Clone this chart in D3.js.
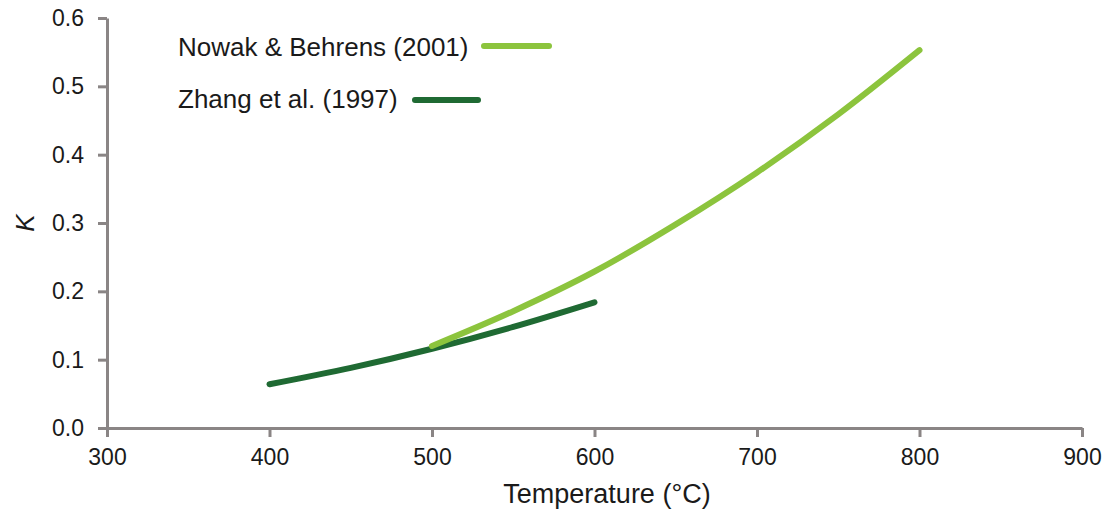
<!DOCTYPE html>
<html>
<head>
<meta charset="utf-8">
<script src="https://cdn.jsdelivr.net/npm/d3@7"></script>
<style>
  html, body { margin: 0; padding: 0; background: #ffffff; }
  text { font-family: "Liberation Sans", Arial, sans-serif; fill: #1a1a1a; }
</style>
</head>
<body>
<svg id="chart" width="1116" height="513"></svg>
<script>
// ---- data ----
const nowakT = [500, 550, 600, 650, 700, 750, 800];
const nowakK = [0.120, 0.171, 0.229, 0.298, 0.374, 0.459, 0.553];
const zhangT = [400, 450, 500, 550, 600];
const zhangK = [0.064, 0.088, 0.116, 0.148, 0.184];
const xTicks = [300, 400, 500, 600, 700, 800, 900];
const yTicks = [0.0, 0.1, 0.2, 0.3, 0.4, 0.5, 0.6];
const seriesNames = ["Nowak & Behrens (2001)", "Zhang et al. (1997)"];
const seriesColors = ["#8cc43d", "#1f6a33"];

const svg = d3.select("#chart");
const margin = { left: 107, right: 34, top: 18, bottom: 85 };
const W = 1116, H = 513;

const x = d3.scaleLinear().domain([300, 900]).range([margin.left, W - margin.right]);
const y = d3.scaleLinear().domain([0, 0.6]).range([H - margin.bottom, margin.top]);

const axisColor = "#8a8585";

// x axis
const gx = svg.append("g")
  .attr("transform", `translate(0,${y(0)})`)
  .call(d3.axisBottom(x).tickValues(xTicks).tickFormat(d3.format("d")).tickSize(9).tickPadding(12).tickSizeOuter(0));
gx.select(".domain").attr("stroke", axisColor).attr("stroke-width", 3);
gx.selectAll(".tick line").attr("stroke", axisColor).attr("stroke-width", 3);
gx.selectAll(".tick text").attr("font-size", 23).attr("fill", "#1a1a1a")
  .attr("font-family", "Liberation Sans, Arial, sans-serif");

// y axis
const gy = svg.append("g")
  .attr("transform", `translate(${x(300)},0)`)
  .call(d3.axisLeft(y).tickValues(yTicks).tickFormat(d3.format(".1f")).tickSize(9).tickPadding(14).tickSizeOuter(0));
gy.select(".domain").attr("stroke", axisColor).attr("stroke-width", 3);
gy.selectAll(".tick line").attr("stroke", axisColor).attr("stroke-width", 3);
gy.selectAll(".tick text").attr("font-size", 23).attr("fill", "#1a1a1a")
  .attr("font-family", "Liberation Sans, Arial, sans-serif");

// axis titles
svg.append("text")
  .attr("x", 607).attr("y", 503)
  .attr("text-anchor", "middle")
  .attr("font-size", 27)
  .text("Temperature (°C)");

svg.append("text")
  .attr("transform", `translate(34,${y(0.3)}) rotate(-90)`)
  .attr("text-anchor", "middle")
  .attr("font-size", 26)
  .attr("font-style", "italic")
  .text("K");

// lines
const line = d3.line().x(d => x(d[0])).y(d => y(d[1])).curve(d3.curveMonotoneX);
const zhang = zhangT.map((t, i) => [t, zhangK[i]]);
const nowak = nowakT.map((t, i) => [t, nowakK[i]]);

svg.append("path").datum(zhang)
  .attr("d", line).attr("fill", "none")
  .attr("stroke", seriesColors[1]).attr("stroke-width", 6).attr("stroke-linecap", "round");
svg.append("path").datum(nowak)
  .attr("d", line).attr("fill", "none")
  .attr("stroke", seriesColors[0]).attr("stroke-width", 6).attr("stroke-linecap", "round");

// legend
const legend = [
  { name: seriesNames[0], color: seriesColors[0], tx: 178, ty: 56, lx1: 484, lx2: 549, ly: 46 },
  { name: seriesNames[1], color: seriesColors[1], tx: 178, ty: 108, lx1: 415, lx2: 478, ly: 100 }
];
legend.forEach(l => {
  svg.append("text").attr("x", l.tx).attr("y", l.ty).attr("font-size", 26).text(l.name);
  svg.append("line").attr("x1", l.lx1).attr("x2", l.lx2).attr("y1", l.ly).attr("y2", l.ly)
    .attr("stroke", l.color).attr("stroke-width", 6).attr("stroke-linecap", "round");
});
</script>
</body>
</html>
